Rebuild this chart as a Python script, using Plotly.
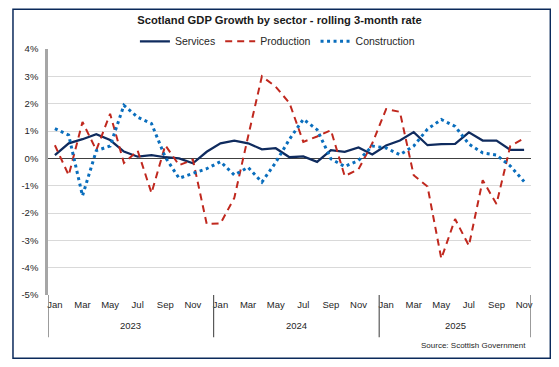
import plotly.graph_objects as go

# ---- data ----
years = ["2023", "2024", "2025"]
month_names = ["Jan", "Feb", "Mar", "Apr", "May", "Jun",
               "Jul", "Aug", "Sep", "Oct", "Nov", "Dec"]
periods = [(y, m) for y in years for m in month_names][:35]

services = [0.12, 0.55, 0.70, 0.88, 0.67, 0.25, 0.06, 0.12, 0.04, 0.00, -0.18, 0.24,
            0.55, 0.65, 0.55, 0.33, 0.37, 0.04, 0.07, -0.13, 0.30, 0.24, 0.40, 0.14,
            0.47, 0.65, 0.96, 0.48, 0.52, 0.53, 0.95, 0.65, 0.65, 0.31, 0.31]
production = [0.48, -0.62, 1.33, 0.30, 1.63, -0.17, 0.28, -1.27, 0.48, -0.25, -0.05, -2.40,
              -2.38, -1.45, 0.80, 3.00, 2.62, 2.02, 0.60, 0.80, 1.03, -0.65, -0.40, 0.55,
              1.80, 1.70, -0.62, -1.03, -3.67, -2.22, -3.20, -0.80, -1.67, 0.45, 0.73]
construction = [1.09, 0.85, -1.37, 0.28, 0.45, 1.94, 1.50, 1.27, 0.04, -0.73, -0.55, -0.38,
                -0.12, -0.61, -0.33, -0.87, -0.15, 0.70, 1.43, 1.05, -0.02, -0.30, -0.08, 0.45,
                0.38, 0.13, 0.45, 1.07, 1.42, 1.17, 0.52, 0.20, 0.12, -0.28, -0.85]

y_ticks = [-5, -4, -3, -2, -1, 0, 1, 2, 3, 4]
y_tick_labels = [f"{v}%" for v in y_ticks]
x_tick_months = ["Jan", "Mar", "May", "Jul", "Sep", "Nov"]

title_text = "Scotland GDP Growth by sector - rolling 3-month rate"
source_text = "Source: Scottish Government"

# ---- build ----
FONT = "Liberation Sans, Arial, sans-serif"
x = list(range(len(periods)))
hover = [f"{m} {y}" for (y, m) in periods]

fig = go.Figure()
fig.add_trace(go.Scatter(x=x, y=services, name="Services", mode="lines",
                         text=hover, line=dict(color="#0f2b5e", width=2.25)))
fig.add_trace(go.Scatter(x=x, y=production, name="Production", mode="lines",
                         text=hover, line=dict(color="#c0281e", width=2, dash="7px,5px")))
fig.add_trace(go.Scatter(x=x, y=construction, name="Construction", mode="lines",
                         text=hover, line=dict(color="#0a6ebd", width=3, dash="3px,3.5px")))

tickvals = [i for i, (y, m) in enumerate(periods) if m in x_tick_months]
ticktext = [periods[i][1] for i in tickvals]

# year separators & labels
bounds = []
for y in years:
    idx = [i for i, p in enumerate(periods) if p[0] == y]
    bounds.append((idx[0] - 0.5, idx[-1] + 0.5))

shapes = []
annotations = []
for (a, b), y in zip(bounds, years):
    annotations.append(dict(x=(a + b) / 2, xref="x", y=-0.125, yref="paper",
                            text=y, showarrow=False,
                            font=dict(family=FONT, size=9.5, color="#262626"),
                            xanchor="center", yanchor="middle"))
sep_x = sorted(set([b[0] for b in bounds] + [b[1] for b in bounds]))
for sx in sep_x:
    shapes.append(dict(type="line", xref="x", yref="paper", x0=sx, x1=sx,
                       y0=0, y1=-0.172, line=dict(color="#595959", width=1.2)))

# outer border
shapes.append(dict(type="rect", xref="paper", yref="paper",
                   x0=-0.0725, x1=1.040, y0=-0.257, y1=1.162,
                   line=dict(color="#0b2a5b", width=1.5), layer="below"))

annotations.append(dict(x=0.994, xref="paper", y=-0.207, yref="paper",
                        text=source_text, showarrow=False,
                        font=dict(family=FONT, size=8, color="#262626"),
                        xanchor="right", yanchor="middle"))

fig.update_layout(
    width=543, height=351,
    margin=dict(l=40, r=20, t=40.7, b=64),
    paper_bgcolor="white", plot_bgcolor="white",
    font=dict(family=FONT, color="#262626"),
    title=dict(text=f"<b>{title_text}</b>", x=0.5, xanchor="center",
               y=1 - 12 / 351, yanchor="middle",
               font=dict(family=FONT, size=11.2, color="#1a1a1a")),
    legend=dict(orientation="h", x=0.475, xanchor="center", y=1.031, yanchor="middle",
                font=dict(family=FONT, size=10.5, color="#262626"),
                itemwidth=30, bgcolor="rgba(0,0,0,0)", tracegroupgap=0),
    showlegend=True,
    shapes=shapes,
    annotations=annotations,
    hovermode="x unified",
)

fig.update_xaxes(range=[-0.5, len(periods) - 0.5], tickmode="array",
                 tickvals=tickvals, ticktext=ticktext, showgrid=False,
                 zeroline=False, showline=False, ticks="",
                 tickfont=dict(family=FONT, size=9.5, color="#262626"),
                 ticklabelstandoff=2)
fig.update_yaxes(range=[-5, 4], tickmode="array", tickvals=y_ticks,
                 ticktext=y_tick_labels,
                 showgrid=True, gridcolor="#d9d9d9", gridwidth=1,
                 zeroline=True, zerolinecolor="#404040", zerolinewidth=1,
                 showline=True, linecolor="#a6a6a6", linewidth=2.5, ticks="",
                 tickfont=dict(family=FONT, size=9.5, color="#262626"),
                 ticklabelstandoff=5)

fig.write_html("out.html")
